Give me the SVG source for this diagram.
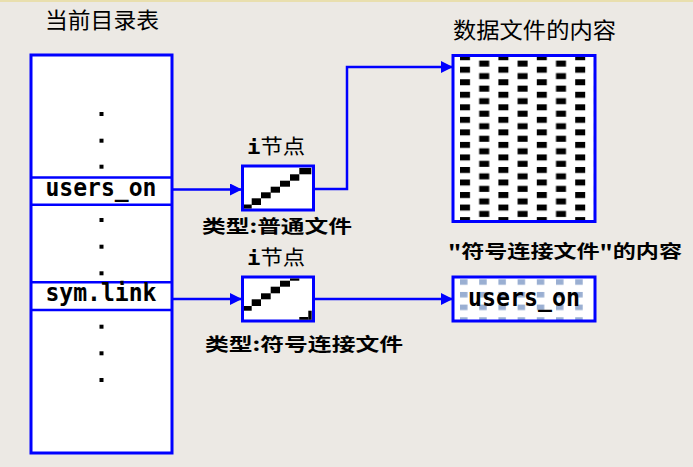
<svg xmlns="http://www.w3.org/2000/svg" width="693" height="467" viewBox="0 0 693 467">
<style>
.bg{fill:#ECE9E4}
.box{fill:#FFFFFF;stroke:#0000FF;stroke-width:3}
.row{stroke:#0000FF;stroke-width:2.5;fill:none}
.conn{stroke:#0000FF;stroke-width:2.5;fill:none}
.title{font-family:"Noto Sans CJK SC","Noto Sans",sans-serif;font-size:22px;fill:#000}
.lbl{font-family:"Noto Sans CJK SC","Noto Sans",sans-serif;font-size:18px;font-weight:bold;fill:#000}
.inl{font-family:"Noto Sans CJK SC","Noto Sans",sans-serif;font-size:20px;fill:#000}
.bi{font-family:"DejaVu Sans Mono",monospace;font-weight:bold}
.mono{font-family:"DejaVu Sans Mono","Liberation Mono",monospace;font-size:25px;font-weight:bold;fill:#000}
.dot{fill:#000}
.blk{fill:#000}
</style>
<defs>
<marker id="arr" markerUnits="userSpaceOnUse" markerWidth="12" markerHeight="12" refX="12" refY="6" orient="auto">
<path d="M0,0 L12,6 L0,12 z" fill="#0000FF"/>
</marker>
<pattern id="data" patternUnits="userSpaceOnUse" x="460" y="54.2" width="38.4" height="12.53">
<rect x="0" y="0" width="10" height="6" fill="#000"/>
<rect x="19.2" y="6.4" width="10" height="6" fill="#000"/>
</pattern>
<pattern id="lnk" patternUnits="userSpaceOnUse" x="460" y="279.3" width="19.2" height="12.65">
<rect x="0" y="0" width="7.5" height="5.5" fill="#9AAFD2"/>
</pattern>
</defs>
<rect class="bg" x="0" y="0" width="693" height="467"/>
<rect x="0" y="0" width="693" height="2" fill="#E9DFAE"/>

<g id="dir-table">
<text class="title" x="45" y="28" textLength="114" lengthAdjust="spacingAndGlyphs">当前目录表</text>
<rect class="box" x="31" y="55" width="141" height="398"/>
<line class="row" x1="31" y1="177.5" x2="172" y2="177.5"/>
<line class="row" x1="31" y1="204.7" x2="172" y2="204.7"/>
<line class="row" x1="31" y1="282.3" x2="172" y2="282.3"/>
<line class="row" x1="31" y1="310" x2="172" y2="310"/>
<rect class="dot" x="99.5" y="112" width="4" height="4"/>
<rect class="dot" x="99.5" y="138.7" width="4" height="4"/>
<rect class="dot" x="99.5" y="164.7" width="4" height="4"/>
<rect class="dot" x="99.5" y="218" width="4" height="4"/>
<rect class="dot" x="99.5" y="244.7" width="4" height="4"/>
<rect class="dot" x="99.5" y="271.3" width="4" height="4"/>
<rect class="dot" x="99.5" y="324.7" width="4" height="4"/>
<rect class="dot" x="99.5" y="351.3" width="4" height="4"/>
<rect class="dot" x="99.5" y="378" width="4" height="4"/>
<text class="mono" x="45.5" y="196" textLength="111" lengthAdjust="spacingAndGlyphs">users_on</text>
<text class="mono" x="45.5" y="301" textLength="111" lengthAdjust="spacingAndGlyphs">sym.link</text>
</g>

<g id="inode1">
<text class="inl" x="247" y="154" textLength="58" lengthAdjust="spacingAndGlyphs"><tspan class="bi">i</tspan>节点</text>
<rect class="box" x="242.5" y="166" width="71" height="44"/>
<rect class="blk" x="244" y="204.5" width="7.7" height="4"/>
<rect class="blk" x="251.7" y="198.3" width="9.3" height="6.7"/>
<rect class="blk" x="261" y="192.3" width="9.7" height="6"/>
<rect class="blk" x="270.7" y="186.7" width="9.3" height="6"/>
<rect class="blk" x="280" y="180.7" width="10" height="6"/>
<rect class="blk" x="290" y="174.3" width="9.3" height="6.4"/>
<rect class="blk" x="299.3" y="168" width="12" height="6.3"/>
<text class="lbl" x="202" y="233" textLength="150" lengthAdjust="spacingAndGlyphs">类型:普通文件</text>
</g>

<g id="inode2">
<text class="inl" x="247" y="265" textLength="58" lengthAdjust="spacingAndGlyphs"><tspan class="bi">i</tspan>节点</text>
<rect class="box" x="242.5" y="277" width="71" height="44"/>
<rect class="blk" x="244" y="306" width="7.7" height="4.7"/>
<rect class="blk" x="251.7" y="299.3" width="9.3" height="6.7"/>
<rect class="blk" x="261" y="293.3" width="9.7" height="6"/>
<rect class="blk" x="270.7" y="286.7" width="9.3" height="6.6"/>
<rect class="blk" x="280" y="280.7" width="10" height="6"/>
<rect class="blk" x="290" y="278.5" width="9.3" height="2.2"/>
<rect class="blk" x="299.3" y="317" width="9" height="2.7"/>
<rect class="blk" x="308.3" y="310.7" width="3.4" height="9"/>
<text class="lbl" x="205" y="351" textLength="198" lengthAdjust="spacingAndGlyphs">类型:符号连接文件</text>
</g>

<g id="data-file">
<text class="title" x="453" y="38" textLength="163" lengthAdjust="spacingAndGlyphs">数据文件的内容</text>
<rect x="453" y="55.5" width="142" height="166" fill="#FFFFFF"/>
<rect x="453" y="55.5" width="142" height="166" fill="url(#data)"/>
<rect x="453" y="55.5" width="142" height="166" fill="none" stroke="#0000FF" stroke-width="3"/>
</g>

<g id="link-content">
<text class="lbl" x="448" y="258" textLength="234" lengthAdjust="spacingAndGlyphs">"符号连接文件"的内容</text>
<rect x="453" y="277" width="142" height="44" fill="#FFFFFF"/>
<rect x="453" y="277" width="142" height="44" fill="url(#lnk)"/>
<rect x="453" y="277" width="142" height="44" fill="none" stroke="#0000FF" stroke-width="3"/>
<text class="mono" x="468" y="306" textLength="112" lengthAdjust="spacingAndGlyphs">users_on</text>
</g>

<g id="connectors">
<path class="conn" d="M172,189.5 H242" marker-end="url(#arr)"/>
<path class="conn" d="M313,189 H347 V67 H453" marker-end="url(#arr)"/>
<path class="conn" d="M172,299 H242" marker-end="url(#arr)"/>
<path class="conn" d="M313,299 H453" marker-end="url(#arr)"/>
</g>
</svg>
